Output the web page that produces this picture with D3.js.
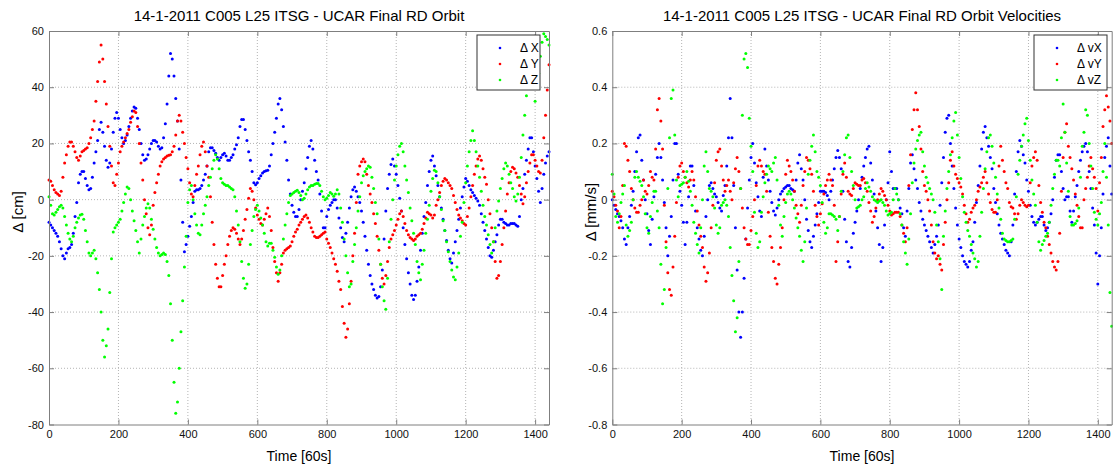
<!DOCTYPE html>
<html>
<head>
<meta charset="utf-8">
<script src="https://cdn.jsdelivr.net/npm/d3@7"></script>
<style>
  body { margin: 0; background: #fff; }
  svg text { font-family: "Liberation Sans", Arial, Helvetica, sans-serif; fill: #000; }
  .grid line { stroke: #b4b4b4; stroke-width: 1; stroke-dasharray: 1,2; }
  .axis path, .axis line { stroke: #7f7f7f; }
  .axis text { font-size: 11px; fill: #111; }
</style>
</head>
<body>
<div id="chart"></div>
<script>
// sample times, one value every 5 epochs (epoch = 60s)
var time = d3.range(0, 1441, 5);

var xTicks = [0, 200, 400, 600, 800, 1000, 1200, 1400];
var posTicks = [-80, -60, -40, -20, 0, 20, 40, 60];
var velTicks = [-0.8, -0.6, -0.4, -0.2, 0, 0.2, 0.4, 0.6];

var posNames = ["\u0394 X", "\u0394 Y", "\u0394 Z"];
var velNames = ["\u0394 vX", "\u0394 vY", "\u0394 vZ"];
var colors = ["#0000ff", "#ff0000", "#00ff00"];

// orbit differences [cm], one row = 100 epochs
var dX = [
  -8, -9, -10, -11, -12, -13, -15, -17.5, -20, -21, -19, -17.5, -17, -16, -12, -6, -1, 6, 9, 10,
  10, 7.5, 5, 3.5, 4, 8, 13, 17, 21, 25, 27.5, 24, 19, 14, 11.5, 13, 18, 24, 29, 31,
  29, 25, 22, 20, 21, 23, 26, 29, 31.5, 33, 32.5, 29, 25, 20, 16, 14, 14.5, 16, 18, 20,
  21, 21, 20.5, 19, 18, 18.5, 22, 27, 34, 44, 52, 50, 44, 36, 28, 18, 7, -8, -18.5, -16,
  -13, -9.5, -6, -1, 3, 3.5, 3.5, 4, 5, 7, 9, 12, 17, 18.5, 18.5, 17.5, 16.5, 15, 14, 15,
  16, 16.5, 15.5, 14, 14, 15, 16, 18, 19.5, 22, 26, 28.5, 28.5, 25, 21, 17, 14, 10, 6, 5.3,
  6, 7.5, 8.5, 9.5, 10, 10.3, 10.5, 12, 16, 20, 24, 29, 34, 36, 32, 26, 20.5, 14, 7, 2,
  -2, -4.5, -6, -6, -3.5, 0, 3, 6, 11, 15, 19, 21, 18, 14, 10, 7, 2, -4, -10, -10,
  -6, -3.5, -2, -1, 0, 0, -3, -6.5, -10, -13.5, -15, -12, -8, -3, 1, 3.5, 4.5, 3, 1, -1,
  -4, -8, -13, -18, -23, -27, -30, -32, -34, -35, -34.5, -31, -25, -14, -4, 4, 9, 12.5, 14.5, 12,
  9, 5, 0.5, -4, -10, -16, -21, -26, -30, -34, -35.5, -34, -29, -24, -18, -12, -6, -1, 5, 10,
  14, 15.5, 12, 8.5, 5, 1, -3, -7, -11, -14.5, -18, -21, -22.5, -19, -15, -11, -7, -3, 1, 4.5,
  7.5, 6.5, 5, 3.5, 2.5, 1.5, 0.5, -0.5, -2, -5, -8, -11, -14, -17, -20, -20.5, -18, -15, -12.5, -9,
  -7, -7, -8, -8.5, -9, -9, -8.5, -8.5, -8.5, -9, -9.5, -6, 0, 4, 9, 14, 18, 22, 22, 17,
  12, 7.5, 3, -1, 4, 9, 13, 15.5, 17];

var dY = [
  7, 6.5, 5, 3.5, 2.5, 2, 1.5, 3, 8, 13, 16, 19, 20.5, 20.5, 19, 17, 15, 14, 15.5, 17,
  17.5, 18, 18.5, 20, 22, 25, 28, 35, 42, 49, 55, 50, 42, 34, 26, 19, 12, 6, 5, 9,
  13, 17, 19, 20.5, 22, 23.5, 25, 27.5, 29.5, 31.5, 31, 26, 20, 13, 7, 0, -5, -10, -12.5, -9,
  -2, 2.5, 6, 9, 12, 13.5, 14.5, 15, 15.5, 15.8, 16, 17, 19, 23, 28, 30, 28, 24, 20, 15,
  11, 6, 2, 1, 5, 9, 12, 16, 19, 20.5, 17, 12, 8, 1, -8, -16, -23, -28, -31, -31,
  -27, -23, -20, -16, -13, -11, -10, -10.5, -12, -14, -16, -14, -11, -7, -3.5, 0.5, 4, 3, 0, -3,
  -5.5, -7, -8.5, -9, -7, -5, -3, -6, -11, -17, -22, -26, -29, -26, -23, -19, -18, -17.5, -17, -16.5,
  -15, -13, -11.5, -10.5, -9, -8, -7, -6, -5.5, -6.5, -8, -10, -11.5, -13, -13.5, -13.5, -13, -12.5, -12, -11.5,
  -14, -15.5, -17, -19, -21, -23, -25.5, -29, -32, -38, -44, -49, -46, -37, -29, -20, -12, -1, 9, 12,
  13.5, 14.5, 13.5, 9, 5, 2, -1, -5, -8.5, -13, -18, -23, -28, -30, -27, -22, -17, -14, -12.5, -11,
  -9, -7, -5, -4, -6, -8.5, -11, -12.5, -13.5, -14, -14.5, -14, -13, -12.5, -12, -10.5, -8.5, -6.5, -4.5, -5,
  -5.5, -6.5, -5.5, -2, 0, 2.5, 5, 6.5, 7.5, 7, 6, 5, 4, 1.5, -1, -3.5, -5.5, -6.5, -7.5, -8.5,
  -9, -6, -3, 1, 5, 9, 12, 14.5, 15.5, 14, 11, 8, 5.5, 0, -5, -10, -15, -22, -28, -27,
  -22, -16, -10, -4, 2, 6, 10, 11.5, 11, 9.5, 8, 5, 2, -1.5, 1, 6, 10, 13, 16, 16,
  14, 12, 10, 9.5, 14, 22, 30, 39, 48];

var dZ = [
  1, -2, -5, -5.5, -4.5, -3.5, -2.5, -2, -3, -6, -9, -12, -14, -15, -13, -10, -8, -6.5, -5.5, -5.2,
  -7, -11, -15, -19, -20, -19, -18, -21, -26, -32, -40, -50, -56, -52, -46, -33, -21, -11.5, -10, -9,
  -8, -7, -4, -1, 2, 4.5, 4, 0, -4, -7.5, -11, -15, -19, -14, -9, -6, -3, -1.5, -3, -7,
  -10.5, -14, -17, -19, -20, -19.5, -19, -19.5, -22, -27, -37, -50, -65, -76, -72, -60, -47, -36, -24, -13,
  -1, 3.5, 5, 0, -5, -9, -12, -12.5, -9, -5, -2, 1, 5, 8, 11, 14, 16, 14.5, 11, 7.5,
  6, 5.5, 5, 5, 4.5, 4, 3.5, 1, -4, -9, -15, -22, -28, -31.5, -30, -23, -16, -11, -6, -3.5,
  -2, -4, -6.5, -9, -12, -15, -16.5, -15.5, -15.5, -18, -20.5, -24, -26.5, -25, -20, -14, -9, -5, -1, 1.5,
  2, 2.5, 3, 3.3, 2.5, 1.5, 0, 0.5, 2, 3.5, 4.5, 5, 5, 5.5, 5.7, 5.7, 5, 3, 1, 0,
  0.5, 1.5, 2.5, 2, 1.2, 2, 3.5, 2, -3, -8, -14, -20, -26, -31, -30, -22, -16, -10, -4, 1,
  6, 8.5, 10, 11, 12, 11.5, 8, 4, -1, -5, -14, -23, -31, -36, -39, -28, -15, -7, 0, 7,
  12, 16, 19, 20, 17, 12, 7, 2.5, -3, -7.5, -12, -16, -22, -26, -28.5, -23, -18, -12, -7, -2,
  3, 7.5, 10.5, 10, 6, 1, -3.5, -7.5, -11, -15, -18.5, -22, -25, -27.5, -28.5, -24, -19, -13, -8, -1,
  6, 12, 17, 21, 24.5, 21, 17, 12, 8, 3, -2, -6, -9, -12.5, -16, -19, -15, -10, -4, -0.5,
  4, 7.5, 11, 13, 12, 9, 6, 4, 1, -0.5, 2, 8, 15, 23, 30, 37, 43, 47, 49, 42,
  35, 40, 45, 51, 56, 59, 58, 57, 55];

// velocity differences [mm/s]
var dvX = [
  0, -0.02, -0.035, -0.05, -0.06, -0.075, -0.1, -0.14, -0.16, -0.1, -0.06, -0.02, 0.03, 0.1, 0.17, 0.22, 0.23, 0.14, 0.07, 0,
  -0.05, -0.11, -0.16, -0.07, 0.01, 0.09, 0.15, 0.2, 0.15, 0.07, -0.01, -0.1, -0.2, -0.13, -0.06, 0.07, 0.2, 0.2, 0.09, 0.03,
  -0.02, -0.08, -0.16, -0.08, 0.01, 0.12, 0.12, 0.05, -0.04, -0.1, -0.14, -0.18, -0.2, -0.13, -0.06, 0, 0.05, 0.06, 0.04, 0.02,
  0.01, -0.01, -0.03, -0.04, 0.015, 0.05, 0.12, 0.22, 0.36, 0.22, 0.05, -0.1, -0.25, -0.4, -0.49, -0.4, -0.28, -0.14, -0.03, 0.07,
  0.15, 0.2, 0.13, 0.06, 0.01, -0.04, -0.06, 0.08, 0.18, 0.12, 0.07, 0.03, -0.01, -0.04, -0.055, -0.03, 0, 0.02, 0.03, 0.04,
  0.045, 0.05, 0.05, 0.04, 0.035, 0.03, 0.07, 0.13, 0.16, 0.11, 0.07, 0, -0.07, -0.11, -0.15, -0.17, -0.13, -0.09, -0.05, -0.01,
  0.03, 0.03, 0.03, 0.025, 0.015, 0, 0.03, 0.07, 0.11, 0.15, 0.175, 0.15, 0.11, 0.03, -0.07, -0.15, -0.22, -0.24, -0.17, -0.12,
  -0.08, -0.04, 0, 0.04, 0.08, 0.12, 0.15, 0.18, 0.19, 0.13, 0.07, 0.02, -0.04, -0.1, -0.16, -0.22, -0.17, -0.09, 0, 0.06,
  0.17, 0.1, 0.04, 0.04, 0.04, 0, -0.03, -0.05, -0.1, -0.13, -0.04, 0.04, 0.13, 0.16, 0.11, 0.07, 0.04, -0.01, -0.04, -0.07,
  -0.09, -0.11, -0.13, -0.15, -0.17, -0.19, -0.16, -0.13, -0.09, -0.02, 0.06, 0.15, 0.24, 0.29, 0.3, 0.2, 0.12, 0.04, -0.03, -0.09,
  -0.14, -0.17, -0.2, -0.22, -0.23, -0.24, -0.22, -0.18, -0.15, -0.08, -0.01, 0.05, 0.12, 0.18, 0.24, 0.26, 0.22, 0.19, 0.15, 0.11,
  0.04, -0.01, -0.05, -0.09, -0.12, -0.14, -0.16, -0.18, -0.19, -0.2, -0.15, -0.09, 0.02, 0.1, 0.17, 0.21, 0.19, 0.16, 0.13, 0.07,
  0.03, -0.02, -0.06, -0.08, -0.09, -0.08, -0.07, -0.06, -0.06, -0.09, -0.11, -0.1, -0.08, -0.05, 0, 0.08, 0.14, 0.16, 0.16, 0.1,
  0.04, 0, 0.01, 0.01, -0.04, -0.08, -0.04, 0.01, 0.05, 0.1, 0.14, 0.17, 0.19, 0.2, 0.17, 0.1, 0.04, -0.03, -0.09, -0.19,
  -0.3, -0.2, -0.1, 0.02, 0.15, 0.19, 0.22, 0.12, 0.02];

var dvY = [
  0.03, 0.01, -0.02, -0.04, -0.1, -0.06, 0.05, 0.2, 0.19, 0.14, 0.1, 0.04, 0, -0.03, -0.045, -0.045, -0.02, 0, 0.07, 0.03,
  0.02, 0.05, 0.1, 0.08, 0.07, 0.18, 0.32, 0.36, 0.28, 0.18, -0.02, -0.15, -0.26, -0.32, -0.34, -0.24, -0.13, -0.01, 0.08, 0.12,
  0.13, 0.1, 0.08, 0.06, 0.045, 0.07, 0.1, 0.07, 0.01, -0.04, -0.09, -0.13, -0.17, -0.24, -0.29, -0.26, -0.19, -0.1, -0.02, 0.06,
  0.14, 0.17, 0.18, 0.12, 0.07, 0.03, 0.05, 0.07, 0.03, 0, 0.06, 0.11, 0.15, 0.1, 0.04, -0.03, -0.1, -0.14, -0.16, -0.16,
  -0.11, -0.06, 0, 0.05, 0.12, 0.14, 0.12, 0.1, 0.09, 0.03, -0.045, -0.13, -0.17, -0.22, -0.28, -0.3, -0.23, -0.17, -0.1, 0,
  0.09, 0.14, 0.12, 0.1, 0.07, 0.03, -0.02, -0.05, -0.08, -0.02, 0.05, 0.1, 0.15, 0.14, 0.11, 0.09, 0.03, -0.02, -0.06, -0.09,
  -0.05, -0.015, 0.02, 0.05, 0.07, 0.09, 0.07, 0.05, -0.02, -0.22, -0.15, -0.06, 0.02, 0.09, 0.13, 0.08, 0.03, 0.02, 0.015, 0.04,
  0.06, 0.055, 0.05, 0.05, 0.07, 0.075, 0.06, 0.03, -0.01, -0.04, -0.08, -0.06, -0.03, 0, 0.02, 0.04, 0.03, 0.015, 0, -0.02,
  -0.04, -0.055, -0.05, -0.045, -0.045, -0.045, -0.06, -0.09, -0.12, -0.15, -0.1, 0.05, 0.16, 0.25, 0.32, 0.38, 0.32, 0.26, 0.18, 0.1,
  0.05, 0.03, 0, -0.04, -0.09, -0.15, -0.19, -0.21, -0.2, -0.23, -0.25, -0.16, -0.08, 0, 0.06, 0.14, 0.17, 0.12, 0.09, 0.075,
  0.06, 0.045, 0.02, -0.02, -0.05, -0.08, -0.07, -0.045, -0.03, -0.02, 0, 0.03, 0.045, 0.06, 0.08, 0.1, 0.06, 0.02, -0.01, -0.035,
  -0.045, -0.045, 0, 0.12, 0.19, 0.14, 0.1, 0.06, 0.04, -0.01, -0.025, -0.03, -0.05, -0.07, -0.05, -0.02, 0, -0.01, -0.02, -0.025,
  -0.02, 0.06, 0.12, 0.15, 0.17, 0.14, 0.05, -0.01, -0.045, -0.08, -0.1, -0.13, -0.16, -0.19, -0.22, -0.24, -0.25, -0.22, -0.12, 0.03,
  0.15, 0.24, 0.27, 0.19, 0.15, 0.11, 0.07, 0.02, -0.02, -0.06, -0.1, -0.1, 0, 0.04, 0.08, 0.12, 0.15, 0.11, 0.08, 0.04,
  -0.04, 0.06, 0.15, 0.26, 0.32, 0.37, 0.33, 0.28, 0.2];

var dvZ = [
  0.09, 0.02, -0.06, -0.08, -0.05, -0.01, 0.02, 0.05, -0.09, -0.13, -0.11, -0.08, 0, 0.08, 0.1, 0.08, 0.065, 0.05, 0.01, -0.05,
  -0.1, -0.12, -0.06, -0.01, 0.03, 0.03, -0.04, -0.1, -0.23, -0.37, -0.32, -0.17, 0.04, 0.22, 0.36, 0.39, 0.23, 0.07, 0.01, 0.05,
  0.055, 0.06, 0.08, 0.1, 0.065, 0.03, -0.02, -0.08, -0.12, -0.16, -0.19, -0.1, 0, 0.12, 0.17, 0.1, 0.04, 0.03, 0.01, -0.03,
  -0.09, -0.12, -0.1, -0.02, -0.01, 0, -0.02, -0.06, -0.17, -0.27, -0.36, -0.47, -0.42, -0.22, 0.04, 0.3, 0.5, 0.52, 0.47, 0.29,
  0.19, 0.1, -0.045, -0.12, -0.17, -0.15, -0.045, 0.01, 0.06, 0.09, 0.12, 0.11, 0.1, 0.13, 0.15, 0.07, -0.02, -0.09, -0.13, -0.06,
  -0.01, 0.02, 0.03, 0.02, 0, -0.03, -0.065, -0.1, -0.13, -0.18, -0.22, -0.15, -0.03, 0.09, 0.14, 0.19, 0.23, 0.17, 0.1, 0.08,
  0.05, -0.01, -0.08, -0.12, -0.1, -0.05, -0.05, -0.055, -0.06, -0.07, -0.11, -0.06, 0.03, 0.1, 0.16, 0.22, 0.23, 0.15, 0.1, 0.05,
  0, -0.03, -0.025, -0.02, 0, 0.01, 0.04, 0.06, 0.045, 0.03, 0.01, 0, -0.005, -0.01, -0.005, 0, -0.01, -0.02, -0.04, -0.055,
  -0.05, -0.045, 0, 0.04, 0.02, 0, -0.05, -0.09, -0.15, -0.19, -0.23, -0.14, -0.05, 0.06, 0.13, 0.18, 0.21, 0.23, 0.24, 0.17,
  0.12, 0.08, 0.06, 0.04, 0.02, 0, -0.045, -0.09, -0.15, -0.21, -0.32, -0.13, -0.04, 0.04, 0.1, 0.16, 0.22, 0.28, 0.31, 0.23,
  0.15, 0.075, 0.01, -0.045, -0.08, -0.11, -0.13, -0.16, -0.19, -0.21, -0.24, -0.22, -0.13, -0.045, 0.04, 0.11, 0.17, 0.22, 0.23, 0.19,
  0.13, 0.08, 0.02, -0.03, -0.07, -0.12, -0.14, -0.145, -0.15, -0.15, -0.145, -0.14, -0.07, 0.01, 0.09, 0.14, 0.19, 0.23, 0.27, 0.29,
  0.21, 0.14, 0.07, 0.02, -0.02, -0.08, -0.15, -0.18, -0.16, -0.145, -0.13, -0.12, -0.08, -0.02, 0.04, 0.09, 0.14, 0.14, 0.12, 0.22,
  0.34, 0.24, 0.13, 0.03, -0.06, -0.09, -0.09, -0.085, -0.075, -0.03, 0.08, 0.19, 0.24, 0.32, 0.3, 0.2, 0.12, 0.04, -0.045, -0.07,
  -0.09, -0.05, -0.01, 0.1, 0.2, 0.08, -0.09, -0.33, -0.45];

var W = 1113, H = 466;
var top_y = 31, bottom_y = 424.5;

var svg = d3.select("#chart").append("svg")
  .attr("width", W)
  .attr("height", H);

drawPanel({
  left: 49, right: 549,
  domain: [-80, 60], ticks: posTicks,
  title: "14-1-2011 C005 L25 ITSG - UCAR Final RD Orbit",
  ylabel: "\u0394 [cm]", ylabelX: 18,
  series: [dX, dY, dZ], names: posNames,
  legend: { x: 477, y: 35, w: 63, h: 55 }
});

drawPanel({
  left: 612.3, right: 1111.7,
  domain: [-0.8, 0.6], ticks: velTicks,
  title: "14-1-2011 C005 L25 ITSG - UCAR Final RD Orbit Velocities",
  ylabel: "\u0394 [mm/s]", ylabelX: 591,
  series: [dvX, dvY, dvZ], names: velNames,
  legend: { x: 1034, y: 35, w: 73, h: 55 }
});

function drawPanel(cfg) {
  var xScale = d3.scaleLinear()
    .domain([0, 1440])
    .range([cfg.left, cfg.right]);

  var yScale = d3.scaleLinear()
    .domain(cfg.domain)
    .range([bottom_y, top_y]);

  var g = svg.append("g");

  // dotted grid
  var grid = g.append("g").attr("class", "grid");
  grid.selectAll(".gx")
    .data(xTicks.slice(1))
    .enter().append("line")
    .attr("x1", function(d) { return xScale(d); })
    .attr("x2", function(d) { return xScale(d); })
    .attr("y1", top_y)
    .attr("y2", bottom_y);
  grid.selectAll(".gy")
    .data(cfg.ticks.slice(1, -1))
    .enter().append("line")
    .attr("x1", cfg.left)
    .attr("x2", cfg.right)
    .attr("y1", function(d) { return yScale(d); })
    .attr("y2", function(d) { return yScale(d); });

  // the three series, one dot per sample
  cfg.series.forEach(function(values, k) {
    g.append("g")
      .selectAll("circle")
      .data(values)
      .enter().append("circle")
      .attr("cx", function(d, i) { return xScale(time[i]); })
      .attr("cy", function(d) { return yScale(d); })
      .attr("r", 1.5)
      .attr("fill", colors[k]);
  });

  // axes, MATLAB style ticks pointing inward
  g.append("g")
    .attr("class", "axis")
    .attr("transform", "translate(0," + bottom_y + ")")
    .call(d3.axisBottom(xScale).tickValues(xTicks).tickSizeInner(-5).tickSizeOuter(0).tickPadding(6)
      .tickFormat(function(d) { return String(d); }));
  g.append("g")
    .attr("class", "axis")
    .attr("transform", "translate(0," + top_y + ")")
    .call(d3.axisTop(xScale).tickValues(xTicks).tickSizeInner(-5).tickSizeOuter(0).tickFormat(""));
  g.append("g")
    .attr("class", "axis")
    .attr("transform", "translate(" + cfg.left + ",0)")
    .call(d3.axisLeft(yScale).tickValues(cfg.ticks).tickSizeInner(-5).tickSizeOuter(0).tickPadding(5)
      .tickFormat(function(d) { return String(d); }));
  g.append("g")
    .attr("class", "axis")
    .attr("transform", "translate(" + cfg.right + ",0)")
    .call(d3.axisRight(yScale).tickValues(cfg.ticks).tickSizeInner(-5).tickSizeOuter(0).tickFormat(""));

  // titles
  g.append("text")
    .attr("x", (cfg.left + cfg.right) / 2)
    .attr("y", 21)
    .attr("text-anchor", "middle")
    .style("font-size", "15px")
    .text(cfg.title);

  g.append("text")
    .attr("x", (cfg.left + cfg.right) / 2)
    .attr("y", 461)
    .attr("text-anchor", "middle")
    .style("font-size", "14px")
    .text("Time [60s]");

  g.append("text")
    .attr("transform", "translate(" + cfg.ylabelX + ",212) rotate(-90)")
    .attr("text-anchor", "middle")
    .attr("dy", "0.35em")
    .style("font-size", "15px")
    .text(cfg.ylabel);

  // legend box
  var lg = g.append("g")
    .attr("transform", "translate(" + cfg.legend.x + "," + cfg.legend.y + ")");
  lg.append("rect")
    .attr("width", cfg.legend.w)
    .attr("height", cfg.legend.h)
    .attr("fill", "#fff")
    .attr("stroke", "#333")
    .attr("stroke-width", 1);
  cfg.names.forEach(function(name, k) {
    lg.append("circle")
      .attr("cx", 23)
      .attr("cy", 13 + k * 16)
      .attr("r", 1.3)
      .attr("fill", colors[k]);
    lg.append("text")
      .attr("x", 43)
      .attr("y", 13 + k * 16)
      .attr("dy", "0.35em")
      .style("font-size", "12px")
      .text(name);
  });
}
</script>
</body>
</html>
